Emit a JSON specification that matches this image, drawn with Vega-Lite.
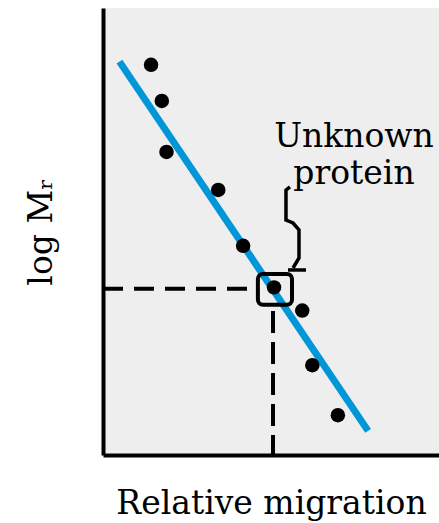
{
  "$schema": "https://vega.github.io/schema/vega-lite/v6.json",
  "width": 336,
  "height": 447,
  "autosize": {"type": "none"},
  "padding": {"left": 103, "top": 8, "right": 0, "bottom": 68},
  "background": "white",
  "config": {
    "view": {"fill": "#eeeeee", "stroke": null},
    "axis": {
      "domainColor": "black",
      "domainWidth": 4,
      "ticks": false,
      "labels": false,
      "grid": false,
      "titleFont": "DejaVu Serif",
      "titleFontSize": 33,
      "titleFontWeight": "normal",
      "titleColor": "black"
    }
  },
  "datasets": {
    "standards": [
      {"migration": 14.3, "logmr": 87.3, "kind": "standard"},
      {"migration": 17.5, "logmr": 79.2, "kind": "standard"},
      {"migration": 18.9, "logmr": 67.8, "kind": "standard"},
      {"migration": 34.3, "logmr": 59.3, "kind": "standard"},
      {"migration": 41.7, "logmr": 46.8, "kind": "standard"},
      {"migration": 50.9, "logmr": 37.5, "kind": "unknown"},
      {"migration": 59.3, "logmr": 32.3, "kind": "standard"},
      {"migration": 62.3, "logmr": 20.1, "kind": "standard"},
      {"migration": 69.9, "logmr": 8.9, "kind": "standard"}
    ],
    "fit": [
      {"migration": 4.9, "logmr": 88.0},
      {"migration": 78.9, "logmr": 5.4}
    ],
    "hguide": [{"x1": 0, "x2": 46.0, "y": 37.2}],
    "vguide": [{"x": 50.6, "y1": 32.2, "y2": 0}],
    "box": [{"x1": 46.1, "x2": 56.25, "y1": 40.5, "y2": 33.6}],
    "brace": [
      {"o": 1, "bx": 55.65, "by": 59.96},
      {"o": 2, "bx": 54.46, "by": 59.28},
      {"o": 3, "bx": 54.46, "by": 52.57},
      {"o": 4, "bx": 56.55, "by": 51.9},
      {"o": 5, "bx": 58.33, "by": 50.34},
      {"o": 6, "bx": 58.33, "by": 44.07},
      {"o": 7, "bx": 56.55, "by": 41.83}
    ],
    "tick": [{"x1": 55.06, "x2": 60.42, "y": 41.39}],
    "label": [
      {"lx": 74.7, "ly": 68.9, "text": "Unknown"},
      {"lx": 74.7, "ly": 60.6, "text": "protein"}
    ]
  },
  "layer": [
    {
      "data": {"name": "fit"},
      "mark": {"type": "line", "color": "#0096d8", "strokeWidth": 7, "strokeCap": "butt"},
      "encoding": {
        "x": {"field": "migration", "type": "quantitative", "scale": {"domain": [0, 100], "nice": false, "zero": false}, "axis": {"title": "Relative migration", "titleFont": "DejaVu Serif", "titlePadding": 32}},
        "y": {"field": "logmr", "type": "quantitative", "scale": {"domain": [0, 100], "nice": false, "zero": false}, "axis": {"title": "log Mᵣ", "titleFont": "DejaVu Serif", "titlePadding": 45}}
      }
    },
    {
      "data": {"name": "hguide"},
      "mark": {"type": "rule", "color": "black", "strokeWidth": 4, "strokeDash": [20, 11]},
      "encoding": {
        "x": {"field": "x1", "type": "quantitative"},
        "x2": {"field": "x2"},
        "y": {"field": "y", "type": "quantitative"}
      }
    },
    {
      "data": {"name": "vguide"},
      "mark": {"type": "rule", "color": "black", "strokeWidth": 4, "strokeDash": [22, 9]},
      "encoding": {
        "x": {"field": "x", "type": "quantitative"},
        "y": {"field": "y1", "type": "quantitative"},
        "y2": {"field": "y2"}
      }
    },
    {
      "data": {"name": "standards"},
      "mark": {"type": "point", "shape": "circle", "filled": true, "color": "black", "size": 210, "opacity": 1},
      "encoding": {
        "x": {"field": "migration", "type": "quantitative"},
        "y": {"field": "logmr", "type": "quantitative"}
      }
    },
    {
      "data": {"name": "box"},
      "mark": {"type": "rect", "fill": null, "fillOpacity": 0, "stroke": "black", "strokeWidth": 4, "cornerRadius": 5},
      "encoding": {
        "x": {"field": "x1", "type": "quantitative"},
        "x2": {"field": "x2"},
        "y": {"field": "y1", "type": "quantitative"},
        "y2": {"field": "y2"}
      }
    },
    {
      "data": {"name": "brace"},
      "mark": {"type": "line", "color": "black", "strokeWidth": 3.5},
      "encoding": {
        "x": {"field": "bx", "type": "quantitative"},
        "y": {"field": "by", "type": "quantitative"},
        "order": {"field": "o", "type": "quantitative"}
      }
    },
    {
      "data": {"name": "tick"},
      "mark": {"type": "rule", "color": "black", "strokeWidth": 3.5},
      "encoding": {
        "x": {"field": "x1", "type": "quantitative"},
        "x2": {"field": "x2"},
        "y": {"field": "y", "type": "quantitative"}
      }
    },
    {
      "data": {"name": "label"},
      "mark": {"type": "text", "font": "DejaVu Serif", "fontSize": 33, "align": "center", "baseline": "alphabetic", "color": "black"},
      "encoding": {
        "x": {"field": "lx", "type": "quantitative"},
        "y": {"field": "ly", "type": "quantitative"},
        "text": {"field": "text"}
      }
    }
  ]
}
